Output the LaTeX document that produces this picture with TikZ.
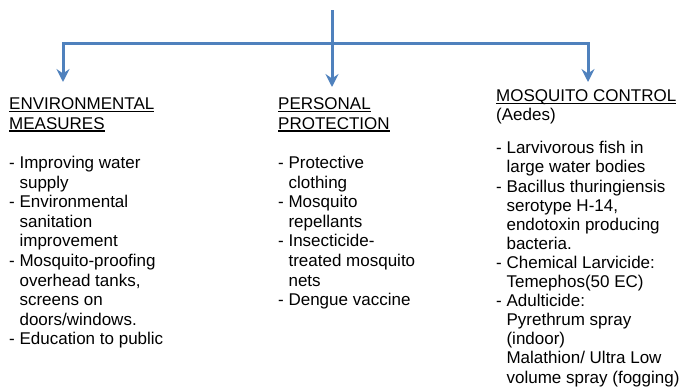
\documentclass[tikz,border=0pt]{standalone}
\usepackage{fontspec}
\setmainfont{Liberation Sans}
\usetikzlibrary{positioning,arrows.meta}

\definecolor{linkblue}{HTML}{4F81BD}
\newsavebox{\hdbox}
\newcommand{\hdl}[1]{\sbox\hdbox{#1}\rlap{\rule[-2.4pt]{\wd\hdbox}{1.3pt}}\usebox\hdbox}
\newcommand{\ind}{\phantom{- }}

\begin{document}
\begin{tikzpicture}[
  x=1pt, y=-1pt,
  font=\fontsize{17pt}{19.6pt}\selectfont,
  col/.style={
    anchor=north west,
    inner sep=0pt,
    align=left,
  },
  link/.style={draw=linkblue, line width=3pt},
  tip/.style={link, -{Stealth[length=13pt, width=13pt, inset=4.5pt]}},
]
  \useasboundingbox (0,0) rectangle (681,391);

  % --- Branching connector ---
  \coordinate (top) at (332,10);
  \coordinate (junc) at (332,43);
  \coordinate (envtip) at (63,82);
  \coordinate (pertip) at (332,87);
  \coordinate (ctltip) at (588,82);

  \draw[tip] (top) -- (pertip);
  \foreach \t in {envtip, ctltip} {
    \draw[tip] (junc) -| (\t);
  }

  % --- Three columns of measures ---
  \node[col] (env) at (9,97.6) {\hdl{ENVIRONMENTAL}\\\hdl{MEASURES}\\[19.6pt]
    - Improving water\\\ind supply\\
    - Environmental\\\ind sanitation\\\ind improvement\\
    - Mosquito-proofing\\\ind overhead tanks,\\\ind screens on\\\ind doors/windows.\\
    - Education to public};

  \node[col] (per) at (278,97.6) {\hdl{PERSONAL}\\\hdl{PROTECTION}\\[19.6pt]
    - Protective\\\ind clothing\\
    - Mosquito\\\ind repellants\\
    - Insecticide-\\\ind treated mosquito\\\ind nets\\
    - Dengue vaccine};

  \node[col, font=\fontsize{17pt}{19.1pt}\selectfont] (ctl) at (496,89.6) {\hdl{MOSQUITO CONTROL}\\(Aedes)\\[14pt]
    - Larvivorous fish in\\\ind large water bodies\\
    - Bacillus thuringiensis\\\ind serotype H-14,\\\ind endotoxin producing\\\ind bacteria.\\
    - Chemical Larvicide:\\\ind Temephos(50 EC)\\
    - Adulticide:\\\ind Pyrethrum spray\\\ind (indoor)\\\ind Malathion/ Ultra Low\\\ind volume spray (fogging)};

\end{tikzpicture}
\end{document}
